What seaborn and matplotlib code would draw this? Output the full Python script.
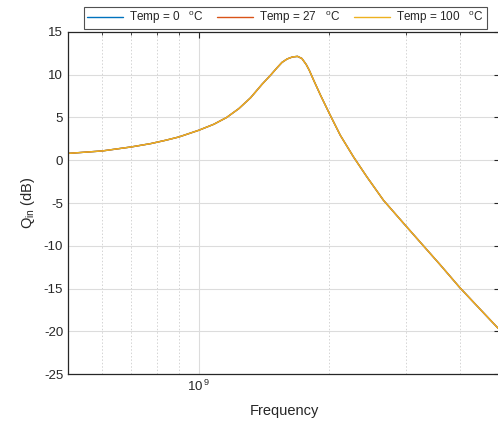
import numpy as np
import pandas as pd
import matplotlib
matplotlib.use("Agg")
import matplotlib.pyplot as plt
import matplotlib.ticker as mticker
import seaborn as sns

# ── Data ────────────────────────────────────────────────────────────────────
freq_hz = [5.0e8, 6.0e8, 7.0e8, 7.76e8, 8.4e8, 9.0e8, 1.0e9, 1.084e9, 1.16e9,
           1.238e9, 1.317e9, 1.401e9, 1.468e9, 1.515e9, 1.557e9, 1.60e9,
           1.645e9, 1.69e9, 1.73e9, 1.77e9, 1.80e9, 1.84e9, 1.91e9, 2.0e9,
           2.121e9, 2.275e9, 2.443e9, 2.667e9, 3.0e9, 3.296e9, 3.6e9, 4.0e9,
           4.45e9, 4.9e9]
q_in_db = [0.80, 1.09, 1.56, 1.95, 2.34, 2.72, 3.50, 4.21, 5.0,
           6.04, 7.3, 8.9, 10.0, 10.8, 11.45, 11.85,
           12.08, 12.15, 11.9, 11.2, 10.5, 9.4, 7.6, 5.5,
           2.92, 0.39, -1.95, -4.68, -7.65, -10.0, -12.2, -14.9,
           -17.4, -19.65]
temps = [0, 27, 100]
colors = ["#0072BD", "#D95319", "#EDB120"]

TXT = "#262626"

sns.set_theme(style="white")
plt.rcParams["font.family"] = ["Liberation Sans", "DejaVu Sans"]
plt.rcParams["mathtext.fontset"] = "custom"
plt.rcParams["mathtext.rm"] = "Liberation Sans"
plt.rcParams["mathtext.it"] = "Liberation Sans"
plt.rcParams["axes.unicode_minus"] = False

rows = []
for t in temps:
    for f, q in zip(freq_hz, q_in_db):
        rows.append({"freq": f, "q": q, "temp": t})
df = pd.DataFrame(rows)

fig = plt.figure(figsize=(4.98, 4.21), dpi=100)
ax = fig.add_axes([68 / 498, 47 / 421, 432 / 498, 342 / 421])

for t, c in zip(temps, colors):
    sub = df[df["temp"] == t]
    sns.lineplot(data=sub, x="freq", y="q", ax=ax, color=c, linewidth=1.0,
                 label=rf"Temp = {t}   $^{{\rm o}}$C", sort=True)

ax.set_xscale("log")
ax.set_xlim(5e8, 4.95e9)
ax.set_ylim(-25, 15)
ax.yaxis.set_major_locator(mticker.MultipleLocator(5))
ax.xaxis.set_major_locator(mticker.LogLocator(base=10, numticks=10))
ax.xaxis.set_major_formatter(mticker.FuncFormatter(
    lambda v, p: r"10$^{\,%d}$" % round(np.log10(v))))
ax.xaxis.set_minor_locator(mticker.LogLocator(base=10, subs=np.arange(2, 10), numticks=20))
ax.xaxis.set_minor_formatter(mticker.NullFormatter())

ax.grid(True, which="major", color="#dcdcdc", linewidth=0.8, linestyle="-")
ax.grid(True, which="minor", axis="x", color="#d4d4d4", linewidth=0.7, linestyle=(0, (1.5, 2)))
ax.set_axisbelow(True)

ax.tick_params(which="both", direction="in", top=True, right=True,
               colors=TXT, labelsize=9.5, labelcolor=TXT)
ax.tick_params(which="major", length=4, width=0.8)
ax.tick_params(which="minor", length=2.5, width=0.6)
for s in ax.spines.values():
    s.set_color(TXT)
    s.set_linewidth(0.9)

ax.set_xlabel("Frequency", fontsize=10.5, color=TXT, labelpad=7)
ax.set_ylabel(r"Q$_{\rm in}$ (dB)", fontsize=10.5, color=TXT, labelpad=5)

leg = ax.legend(loc="lower center", bbox_to_anchor=(0.503, 1.008), ncol=3,
                fontsize=8.5, frameon=True, fancybox=False, edgecolor=TXT,
                handlelength=3.1, columnspacing=1.1, handletextpad=0.5,
                borderpad=0.25, borderaxespad=0)
leg.get_frame().set_linewidth(0.8)
for txt in leg.get_texts():
    txt.set_color(TXT)

fig.savefig("out.png", dpi=100)
